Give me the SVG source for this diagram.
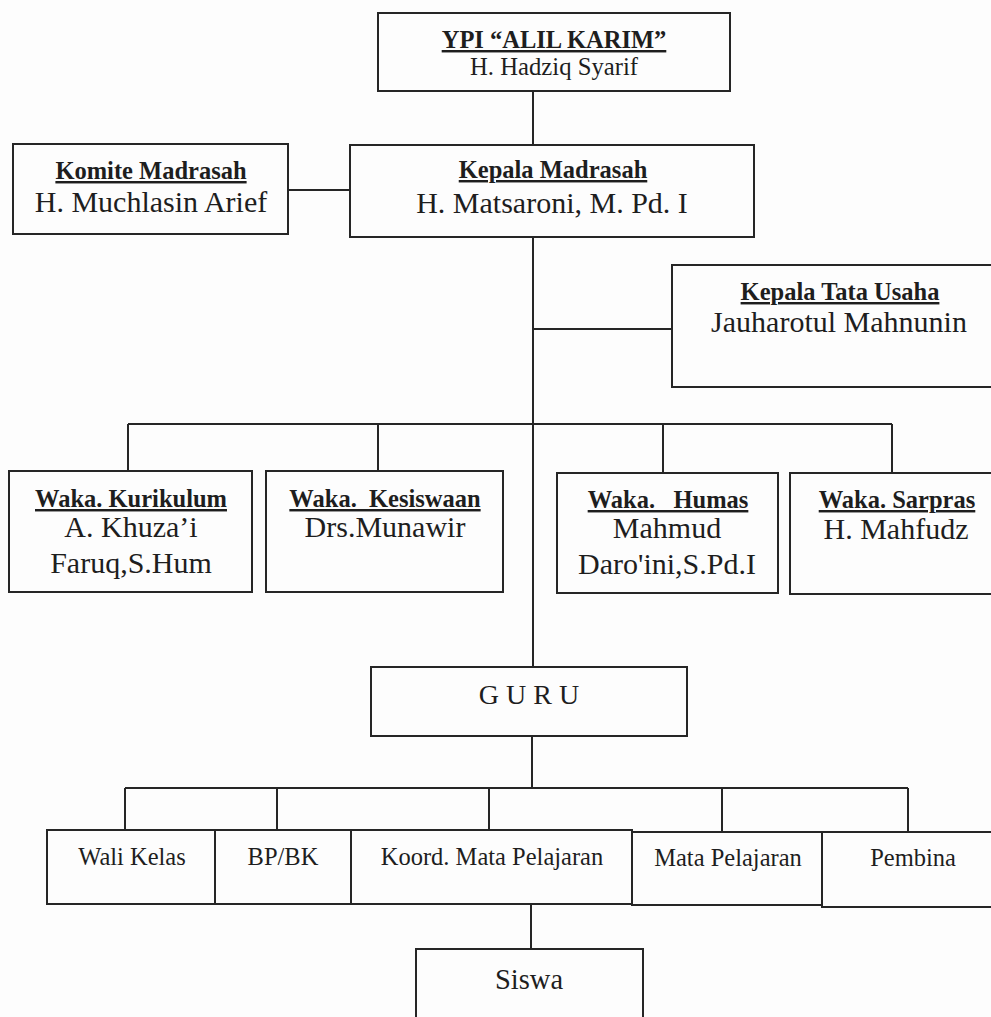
<svg xmlns="http://www.w3.org/2000/svg" width="991" height="1017" viewBox="0 0 991 1017">
<style>
.box{fill:none;stroke:#262626;stroke-width:2}
.ln{fill:none;stroke:#262626;stroke-width:2}
text{font-family:"Liberation Serif","Times New Roman",serif;fill:#1e1e1e;text-anchor:middle}
.t{font-weight:bold;font-size:24.5px;text-decoration:underline}
.n{font-size:30px}
.s{font-size:24.5px}
</style>
<rect x="0" y="0" width="991" height="1017" fill="#fdfdfd"/>
<g id="connectors">
<line class="ln" x1="533" y1="91" x2="533" y2="145"/>
<line class="ln" x1="288" y1="190" x2="350" y2="190"/>
<line class="ln" x1="533" y1="237" x2="533" y2="667"/>
<line class="ln" x1="533" y1="329" x2="672" y2="329"/>
<line class="ln" x1="128" y1="424" x2="892" y2="424"/>
<line class="ln" x1="128" y1="424" x2="128" y2="471"/>
<line class="ln" x1="378" y1="424" x2="378" y2="471"/>
<line class="ln" x1="663" y1="424" x2="663" y2="473"/>
<line class="ln" x1="892" y1="424" x2="892" y2="473"/>
<line class="ln" x1="532" y1="736" x2="532" y2="788"/>
<line class="ln" x1="125" y1="788" x2="908" y2="788"/>
<line class="ln" x1="125" y1="788" x2="125" y2="830"/>
<line class="ln" x1="277" y1="788" x2="277" y2="830"/>
<line class="ln" x1="489" y1="788" x2="489" y2="830"/>
<line class="ln" x1="722" y1="788" x2="722" y2="832"/>
<line class="ln" x1="908" y1="788" x2="908" y2="832"/>
<line class="ln" x1="531" y1="904" x2="531" y2="949"/>
</g>
<g id="ypi">
<rect class="box" x="378" y="13" width="352" height="78"/>
<text class="t" x="554" y="48">YPI “ALIL KARIM”</text>
<text x="554" y="75" style="font-size:24.7px">H. Hadziq Syarif</text>
</g>
<g id="komite">
<rect class="box" x="13" y="144" width="275" height="90"/>
<text class="t" x="151" y="179">Komite Madrasah</text>
<text class="n" x="151" y="212">H. Muchlasin Arief</text>
</g>
<g id="kepala">
<rect class="box" x="350" y="145" width="404" height="92"/>
<text class="t" x="553" y="178">Kepala Madrasah</text>
<text class="n" x="552" y="213">H. Matsaroni, M. Pd. I</text>
</g>
<g id="tatausaha">
<rect class="box" x="672" y="265" width="340" height="122"/>
<text class="t" x="840" y="300">Kepala Tata Usaha</text>
<text class="n" x="839" y="332">Jauharotul Mahnunin</text>
</g>
<g id="kurikulum">
<rect class="box" x="9" y="471" width="243" height="121"/>
<text class="t" x="131" y="507">Waka. Kurikulum</text>
<text class="n" x="131" y="537">A. Khuza’i</text>
<text class="n" x="131" y="573">Faruq,S.Hum</text>
</g>
<g id="kesiswaan">
<rect class="box" x="266" y="471" width="237" height="121"/>
<text class="t" x="385" y="507" xml:space="preserve">Waka.  Kesiswaan</text>
<text class="n" x="385" y="537">Drs.Munawir</text>
</g>
<g id="humas">
<rect class="box" x="557" y="473" width="221" height="120"/>
<text class="t" x="668" y="508" xml:space="preserve">Waka.   Humas</text>
<text class="n" x="667" y="538">Mahmud</text>
<text class="n" x="667" y="574">Daro'ini,S.Pd.I</text>
</g>
<g id="sarpras">
<rect class="box" x="790" y="473" width="214" height="121"/>
<text class="t" x="897" y="508">Waka. Sarpras</text>
<text class="n" x="896" y="539">H. Mahfudz</text>
</g>
<g id="guru">
<rect class="box" x="371" y="667" width="316" height="69"/>
<text x="529" y="704" style="font-size:28px">G U R U</text>
</g>
<g id="walikelas">
<rect class="box" x="47" y="830" width="168" height="74"/>
<text class="s" x="132" y="865">Wali Kelas</text>
</g>
<g id="bpbk">
<rect class="box" x="215" y="830" width="136" height="74"/>
<text class="s" x="283" y="865">BP/BK</text>
</g>
<g id="koord">
<rect class="box" x="351" y="830" width="281" height="74"/>
<text class="s" x="492" y="865">Koord. Mata Pelajaran</text>
</g>
<g id="matapelajaran">
<rect class="box" x="632" y="832" width="190" height="73"/>
<text class="s" x="728" y="866">Mata Pelajaran</text>
</g>
<g id="pembina">
<rect class="box" x="822" y="832" width="190" height="75"/>
<text class="s" x="913" y="866">Pembina</text>
</g>
<g id="siswa">
<rect class="box" x="416" y="949" width="227" height="90"/>
<text x="529" y="989" style="font-size:28.5px">Siswa</text>
</g>
</svg>
